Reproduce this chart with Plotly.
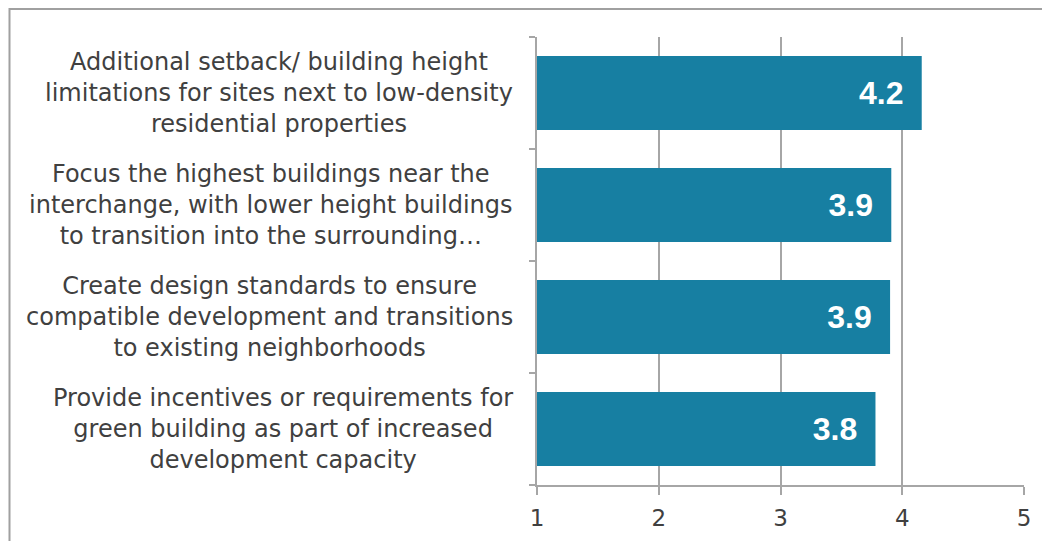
import plotly.graph_objects as go

categories = [
    "Additional setback/ building height<br>limitations for sites next to low-density<br>residential properties",
    "Focus the highest buildings near the<br>interchange, with lower height buildings<br>to transition into the surrounding…",
    "Create design standards to ensure<br>compatible development and transitions<br>to existing neighborhoods",
    "Provide incentives or requirements for<br>green building as part of increased<br>development capacity",
]
values = [4.16, 3.91, 3.90, 3.78]
base_value = 1
x_ticks = [1, 2, 3, 4, 5]

BAR = "#177fa2"
GRID = "#a6a6a6"
TXT = "#404040"
LABEL_FONT = "DejaVu Sans"

fig = go.Figure()
fig.add_trace(go.Bar(
    y=categories,
    x=[v - base_value for v in values],
    base=base_value,
    orientation="h",
    marker=dict(color=BAR, line=dict(width=0)),
    width=0.66,
    text=[f"{v:.1f}\u00a0\u2009" for v in values],
    textposition="inside",
    insidetextanchor="end",
    textfont=dict(family="Liberation Sans", size=32, color="white", weight="bold"),
    hoverinfo="skip",
))

for c in categories:
    fig.add_annotation(
        x=0, xref="paper", y=c, yref="y",
        text=c, showarrow=False, xanchor="right", yanchor="middle",
        align="center", xshift=-22,
        font=dict(family=LABEL_FONT, size=24, color=TXT),
    )

# outer frame (left and top edges visible; right and bottom run off the page)
fig.add_shape(
    type="rect", xref="paper", yref="paper",
    x0=(1.5 - 529) / 487, x1=(1100 - 529) / 487,
    y0=(485 - 560) / 448, y1=(485 - 9) / 448,
    line=dict(color="#a0a0a0", width=2), fillcolor="rgba(0,0,0,0)", layer="below",
)

fig.update_layout(
    width=1050, height=541,
    margin=dict(l=529, r=34, t=29, b=64),
    paper_bgcolor="white", plot_bgcolor="white",
    showlegend=False,
    bargap=0.34,
    xaxis=dict(
        range=[x_ticks[0], x_ticks[-1]], tickvals=x_ticks,
        showgrid=True, gridcolor=GRID, gridwidth=1.5,
        showline=True, linecolor=GRID, linewidth=1.5,
        ticks="outside", ticklen=8, tickcolor=GRID, tickwidth=1.5,
        ticklabelstandoff=4,
        tickfont=dict(family=LABEL_FONT, size=23, color=TXT),
        zeroline=False, fixedrange=True,
    ),
    yaxis=dict(
        categoryorder="array", categoryarray=categories[::-1],
        showticklabels=False,
        showline=True, linecolor=GRID, linewidth=1.5,
        ticks="outside", tickson="boundaries", ticklen=6, tickcolor=GRID, tickwidth=1.5,
        showgrid=False, fixedrange=True,
    ),
)

fig.write_html("out.html")
